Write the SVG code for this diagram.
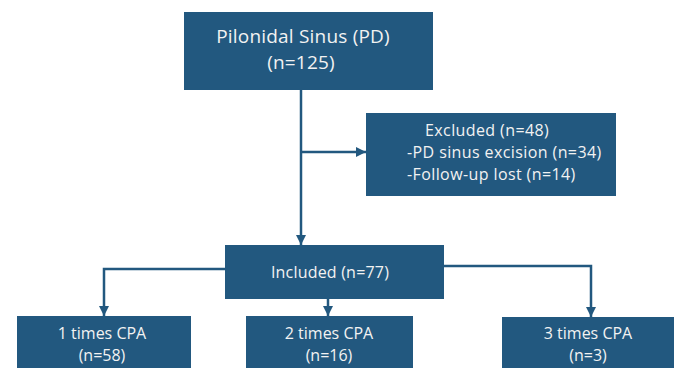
<svg xmlns="http://www.w3.org/2000/svg" width="679" height="368" viewBox="0 0 679 368">
<style>
.box{fill:#22587f;}
.t{fill:#f2f2f2;font-family:"Open Sans","Noto Sans",sans-serif;}
.c{fill:none;stroke:#22587f;stroke-width:2.5;}
</style>
<defs>
<marker id="ah" markerUnits="userSpaceOnUse" markerWidth="12" markerHeight="10" refX="10" refY="5" orient="auto">
<path d="M0,0 L10,5 L0,10 z" fill="#22587f"/>
</marker>
</defs>
<rect width="679" height="368" fill="#ffffff"/>
<g id="connectors">
<path class="c" d="M301,90 V245" marker-end="url(#ah)"/>
<path class="c" d="M301,152 H366" marker-end="url(#ah)"/>
<path class="c" d="M225,269 H104 V316" marker-end="url(#ah)"/>
<path class="c" d="M328,299 V316" marker-end="url(#ah)"/>
<path class="c" d="M444,266 H591 V317" marker-end="url(#ah)"/>
</g>
<g id="pilonidal">
<rect class="box" x="184" y="12" width="249" height="78"/>
<text class="t" x="303" y="43" font-size="19" letter-spacing="0.2" text-anchor="middle">Pilonidal Sinus (PD)</text>
<text class="t" x="301" y="69" font-size="19" letter-spacing="0.2" text-anchor="middle">(n=125)</text>
</g>
<g id="excluded">
<rect class="box" x="366" y="113" width="250" height="83"/>
<text class="t" x="425" y="136" font-size="16" letter-spacing="0.4">Excluded (n=48)</text>
<text class="t" x="407" y="158" font-size="16" letter-spacing="0.4">-PD sinus excision (n=34)</text>
<text class="t" x="407" y="180" font-size="16" letter-spacing="0.4">-Follow-up lost (n=14)</text>
</g>
<g id="included">
<rect class="box" x="225" y="245" width="219" height="54"/>
<text class="t" x="330" y="278" font-size="16" letter-spacing="0.2" text-anchor="middle">Included (n=77)</text>
</g>
<g id="cpa1">
<rect class="box" x="17" y="316" width="174" height="52"/>
<text class="t" x="102" y="339" font-size="16" text-anchor="middle">1 times CPA</text>
<text class="t" x="102" y="361" font-size="16" text-anchor="middle">(n=58)</text>
</g>
<g id="cpa2">
<rect class="box" x="246" y="316" width="167" height="52"/>
<text class="t" x="329" y="339" font-size="16" text-anchor="middle">2 times CPA</text>
<text class="t" x="329" y="361" font-size="16" text-anchor="middle">(n=16)</text>
</g>
<g id="cpa3">
<rect class="box" x="502" y="317" width="172" height="51"/>
<text class="t" x="588" y="339" font-size="16" text-anchor="middle">3 times CPA</text>
<text class="t" x="588" y="361" font-size="16" text-anchor="middle">(n=3)</text>
</g>
</svg>
